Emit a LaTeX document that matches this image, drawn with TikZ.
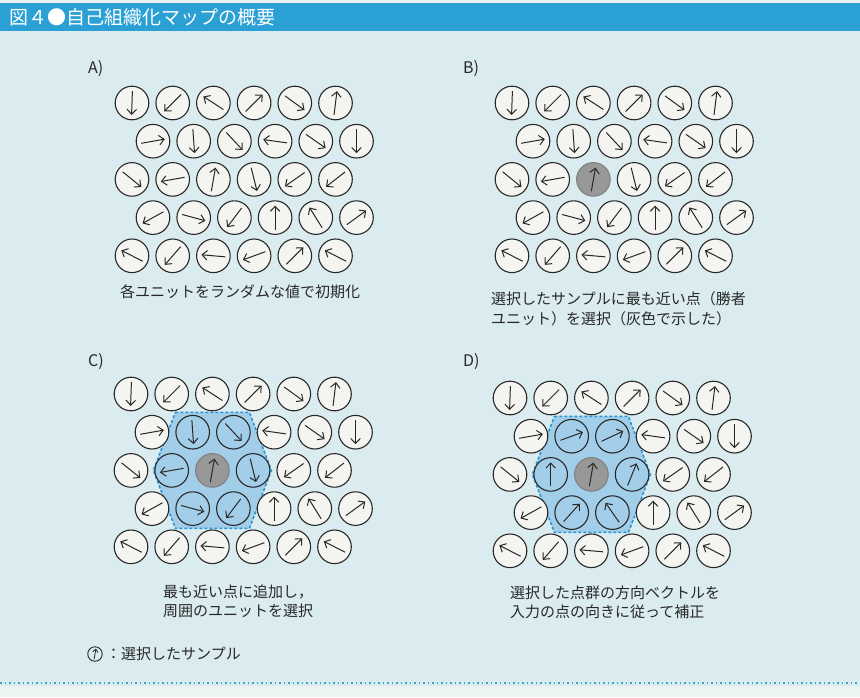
\documentclass[tikz,border=0pt]{standalone}
\usepackage{fontspec}
\setmainfont{Noto Sans CJK JP}
\usetikzlibrary{arrows.meta}
\definecolor{bgc}{RGB}{218,236,240}
\definecolor{topc}{RGB}{232,240,240}
\definecolor{lowc}{RGB}{236,243,243}
\definecolor{bandc}{RGB}{42,160,212}
\definecolor{unitfill}{RGB}{244,245,240}
\definecolor{hexfill}{RGB}{163,206,234}
\definecolor{hexline}{RGB}{40,150,210}
\definecolor{wgray}{RGB}{152,152,152}
\definecolor{ink}{RGB}{40,40,40}
\definecolor{dotc}{RGB}{60,165,210}
\tikzset{
  unit/.style={circle, line width=1.1pt, minimum size=33.6pt, inner sep=0pt},
  vec/.style={draw=ink, line width=1pt, -{Straight Barb[length=5pt,width=9.5pt]}},
  smallvec/.style={draw=ink, line width=0.8pt, -{Straight Barb[length=3pt,width=5.5pt]}},
  caption/.style={font=\fontsize{15}{19.5}\selectfont, text=ink, align=left, anchor=north west, inner sep=0pt},
  plabel/.style={font=\fontsize{16}{16}\selectfont, text=ink, anchor=west, inner sep=0pt},
  hexregion/.style={fill=hexfill, draw=hexline, line width=1.6pt, dash pattern=on 3pt off 2pt},
}
% #1 prefix, #2 x0, #3 y0, #4 mode (0 none, 1 winner, 2 winner+neighbours), #5 angles
\newcommand{\somgrid}[5]{%
  \foreach \a [count=\i from 0] in {#5} {
    \pgfmathtruncatemacro{\rowi}{floor(\i/6)}
    \pgfmathtruncatemacro{\coli}{mod(\i,6)}
    \pgfmathsetmacro{\px}{#2 + \coli*40.7 + 21*mod(\rowi,2)}
    \pgfmathsetmacro{\py}{#3 + \rowi*38.2}
    \def\fc{unitfill}\def\dc{ink}
    \ifnum#4>1
      \ifnum\i=7 \def\fc{hexfill}\fi
      \ifnum\i=8 \def\fc{hexfill}\fi
      \ifnum\i=13 \def\fc{hexfill}\fi
      \ifnum\i=15 \def\fc{hexfill}\fi
      \ifnum\i=19 \def\fc{hexfill}\fi
      \ifnum\i=20 \def\fc{hexfill}\fi
    \fi
    \ifnum#4>0
      \ifnum\i=14 \def\fc{wgray}\def\dc{wgray!85!black}\fi
    \fi
    \node[unit, fill=\fc, draw=\dc] (#1\rowi\coli) at (\px,\py) {};
    \draw[vec] ([shift={({-(\a)-180}:12)}]#1\rowi\coli.center) -- ([shift={({-(\a)}:12)}]#1\rowi\coli.center);
  }%
}
\newcommand{\hexat}[2]{%
  \filldraw[hexregion] (#1-37,#2-58) -- (#1+37,#2-58) -- (#1+59,#2) -- (#1+37,#2+58) -- (#1-37,#2+58) -- (#1-59,#2) -- cycle;
}
\def\anglesA{-92,-135,147,45,-36,83,
  10,-86,-47,172,-35,-90,
  -39,190,80,-76,-145,-142,
  -151,-15,-127,90,122,36,
  153,-131,175,200,45,153}
\def\anglesD{-92,-135,147,45,-36,83,
  10,20,25,172,-35,-90,
  -39,90,80,68,-145,-142,
  -151,48,125,90,122,36,
  153,-131,175,200,45,153}
\begin{document}
\begin{tikzpicture}[x=1pt,y=-1pt]
\useasboundingbox (0,0) rectangle (860,697);
\fill[bgc] (0,0) rectangle (860,697);
\fill[topc] (0,0) rectangle (860,3);
\fill[bandc] (0,3) rectangle (860,31);
\fill[lowc] (0,686) rectangle (860,697);
\node[anchor=west, inner sep=0pt, text=white, font=\fontsize{19}{19}\selectfont] (title) at (9,17.5) {図４●自己組織化マップの概要};

% labels
\node[plabel] (la) at (88,69) {A)};
\node[plabel] (lb) at (463,69) {B)};
\node[plabel] (lc) at (88,362) {C)};
\node[plabel] (ld) at (463,362) {D)};

% panels
\expandafter\somgrid\expandafter{\expandafter A\expandafter}\expandafter{\expandafter1\expandafter3\expandafter2\expandafter}\expandafter{\expandafter1\expandafter0\expandafter3\expandafter}\expandafter{\expandafter0\expandafter}\expandafter{\anglesA}
\expandafter\somgrid\expandafter{\expandafter B\expandafter}\expandafter{\expandafter5\expandafter1\expandafter2\expandafter}\expandafter{\expandafter1\expandafter0\expandafter3\expandafter}\expandafter{\expandafter1\expandafter}\expandafter{\anglesA}
\hexat{212.4}{470.4}
\expandafter\somgrid\expandafter{\expandafter C\expandafter}\expandafter{\expandafter1\expandafter3\expandafter1\expandafter}\expandafter{\expandafter3\expandafter9\expandafter4\expandafter}\expandafter{\expandafter2\expandafter}\expandafter{\anglesA}
\hexat{591.4}{474.4}
\expandafter\somgrid\expandafter{\expandafter D\expandafter}\expandafter{\expandafter5\expandafter1\expandafter0\expandafter}\expandafter{\expandafter3\expandafter9\expandafter8\expandafter}\expandafter{\expandafter2\expandafter}\expandafter{\anglesD}

% captions
\node[inner sep=0pt, text=ink, font=\fontsize{15}{19.5}\selectfont] (capa) at (240,292) {各ユニットをランダムな値で初期化};
\node[caption] (capb) at (491,291.5) {選択したサンプルに最も近い点（勝者\\ユニット）を選択（灰色で示した）};
\node[caption] (capc) at (163,584.5) {最も近い点に追加し，\\周囲のユニットを選択};
\node[caption] (capd) at (510,585.5) {選択した点群の方向ベクトルを\\入力の点の向きに従って補正};

% legend
\node[circle, draw=ink, line width=0.9pt, minimum size=14.5pt, inner sep=0pt] (leg) at (95,654) {};
\draw[smallvec] ([shift={(-260:5.5)}]leg.center) -- ([shift={(-80:5.5)}]leg.center);
\node[anchor=west, inner sep=0pt, text=ink, font=\fontsize{15}{15}\selectfont] (legtext) at (106,654) {：選択したサンプル};

% bottom dotted rule
\draw[dotc, line width=1.7pt, dash pattern=on 1.6pt off 2.9pt] (0,683) -- (860,683);
\end{tikzpicture}
\end{document}
